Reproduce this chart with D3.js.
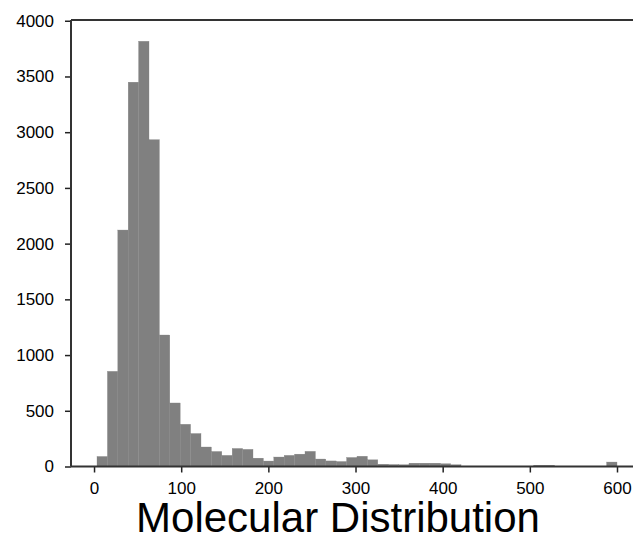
<!DOCTYPE html>
<html>
<head>
<meta charset="utf-8">
<script src="https://cdn.jsdelivr.net/npm/d3@7"></script>
<style>
  body { margin: 0; background: #fff; }
  svg { display: block; }
</style>
</head>
<body>
<svg width="633" height="539"></svg>
<script>
// histogram of molecule sizes, 50 bins from binMin to binMax
const binMin = 3.4;
const binMax = 600;
const counts = [
  90, 854, 2122, 3449, 3816, 2933, 1180, 570, 379, 296,
  175, 135, 100, 162, 154, 75, 49, 85, 100, 111,
  136, 67, 50, 45, 81, 92, 60, 21, 18, 16,
  30, 30, 30, 25, 16, 0, 0, 0, 0, 0,
  0, 0, 12, 12, 0, 0, 0, 0, 0, 40
];
const xTicks = [0, 100, 200, 300, 400, 500, 600];
const yTicks = [0, 500, 1000, 1500, 2000, 2500, 3000, 3500, 4000];
const title = "Molecular Distribution";

const svg = d3.select("svg");
const margin = { left: 71, top: 20, right: -10, bottom: 72.5 };
const width = +svg.attr("width");
const height = +svg.attr("height");

const binWidth = (binMax - binMin) / counts.length;
const bins = counts.map((c, i) => ({
  x0: binMin + i * binWidth,
  x1: binMin + (i + 1) * binWidth,
  count: c,
}));

// matplotlib style 5% padding
const pad = (binMax - binMin) * 0.05;
const x = d3
  .scaleLinear()
  .domain([binMin - pad, binMax + pad])
  .range([margin.left, width - margin.right]);
const yMax = d3.max(counts) * 1.05;
const y = d3
  .scaleLinear()
  .domain([0, yMax])
  .range([height - margin.bottom, margin.top]);

const g = svg.append("g");

g.selectAll("rect")
  .data(bins)
  .join("rect")
  .attr("x", (d) => x(d.x0))
  .attr("width", (d) => x(d.x1) - x(d.x0))
  .attr("y", (d) => y(d.count))
  .attr("height", (d) => y(0) - y(d.count))
  .attr("fill", "#808080")
  .attr("stroke", "#808080")
  .attr("stroke-width", 0.3);

const xAxis = svg
  .append("g")
  .attr("transform", `translate(0,${y(0)})`)
  .call(d3.axisBottom(x).tickValues(xTicks).tickFormat(d3.format("d")).tickSize(6).tickPadding(9.5));

const yAxis = svg
  .append("g")
  .attr("transform", `translate(${margin.left},0)`)
  .call(d3.axisLeft(y).tickValues(yTicks).tickFormat(d3.format("d")).tickSize(6).tickPadding(11));

[xAxis, yAxis].forEach((ax) => {
  ax.select(".domain").remove();
  ax.selectAll(".tick line").attr("stroke", "#222").attr("stroke-width", 1.5);
  ax.selectAll(".tick text")
    .attr("fill", "#000")
    .style("font-family", "'Liberation Sans', Arial, sans-serif")
    .style("font-size", "17px");
});

// spines
const spine = svg.append("g").attr("stroke", "#333").attr("stroke-width", 2).attr("fill", "none");
spine.append("line")
  .attr("x1", x.range()[0]).attr("x2", x.range()[1])
  .attr("y1", y(0)).attr("y2", y(0));
spine.append("line")
  .attr("x1", x.range()[0]).attr("x2", x.range()[1])
  .attr("y1", y(yMax)).attr("y2", y(yMax));
spine.append("line")
  .attr("x1", x.range()[0]).attr("x2", x.range()[0])
  .attr("y1", y(0)).attr("y2", y(yMax));
spine.append("line")
  .attr("x1", x.range()[1]).attr("x2", x.range()[1])
  .attr("y1", y(0)).attr("y2", y(yMax));

svg.append("text")
  .attr("x", 338)
  .attr("y", 532)
  .attr("text-anchor", "middle")
  .style("font-family", "'Liberation Sans', Arial, sans-serif")
  .style("font-size", "42px")
  .text(title);
</script>
</body>
</html>
